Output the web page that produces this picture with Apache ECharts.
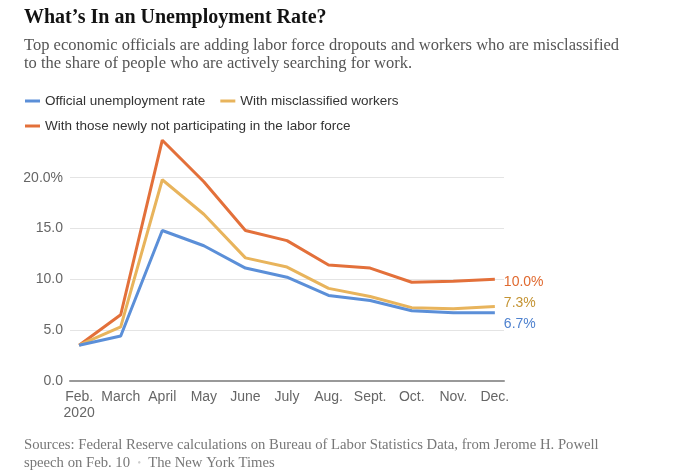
<!DOCTYPE html>
<html>
<head>
<meta charset="utf-8">
<script src="https://cdn.jsdelivr.net/npm/echarts@6/dist/echarts.min.js"></script>
<style>html,body{margin:0;padding:0;background:#fff}#c{width:680px;height:476px}</style>
</head>
<body>
<div id="c"></div>
<script>
var months = ['Feb.\n2020', 'March', 'April', 'May', 'June', 'July', 'Aug.', 'Sept.', 'Oct.', 'Nov.', 'Dec.'];
var official = [3.5, 4.4, 14.8, 13.3, 11.1, 10.2, 8.4, 7.9, 6.9, 6.7, 6.7];
var misclassified = [3.5, 5.3, 19.8, 16.4, 12.1, 11.2, 9.1, 8.3, 7.2, 7.1, 7.3];
var notParticipating = [3.5, 6.5, 23.7, 19.6, 14.8, 13.8, 11.4, 11.1, 9.7, 9.8, 10.0];
var yTicks = [0, 5, 10, 15, 20];
var names = ['Official unemployment rate', 'With misclassified workers', 'With those newly not participating in the labor force'];

function pairs(arr) { return arr.map(function (v, i) { return [i, v]; }); }
var idx = months.map(function (m, i) { return i; });

var sans = "'Liberation Sans', Arial, sans-serif";
var serif = "'Liberation Serif', 'Times New Roman', serif";

var chart = echarts.init(document.getElementById('c'), null, { renderer: 'canvas' });
chart.setOption({
  animation: false,
  title: [
    { left: 24, top: 8, padding: 0, text: 'What\u2019s In an Unemployment Rate?',
      textStyle: { fontFamily: serif, fontWeight: 'bold', fontSize: 20, color: '#121212' } },
    { left: 24, top: 36, padding: 0, text: 'Top economic officials are adding labor force dropouts and workers who are misclassified\nto the share of people who are actively searching for work.',
      textStyle: { fontFamily: serif, fontWeight: 'normal', fontSize: 16.5, lineHeight: 18.5, color: '#555' } },
    { left: 24, top: 436, padding: 0, text: 'Sources: Federal Reserve calculations on Bureau of Labor Statistics Data, from Jerome H. Powell\nspeech on Feb. 10  {d|\u2022}  The New York Times',
      textStyle: { fontFamily: serif, fontWeight: 'normal', fontSize: 14.7, lineHeight: 18, color: '#777',
        rich: { d: { color: '#ccc', fontSize: 10 } } } }
  ],
  legend: [
    { left: 25, top: 94, padding: 0, data: [names[0], names[1]], icon: 'rect', itemWidth: 15, itemHeight: 3, itemGap: 15,
      textStyle: { fontFamily: sans, fontSize: 13.5, color: '#333' } },
    { left: 25, top: 119, padding: 0, data: [names[2]], icon: 'rect', itemWidth: 15, itemHeight: 3,
      textStyle: { fontFamily: sans, fontSize: 13.5, color: '#333' } }
  ],
  grid: { left: 70, right: 176, top: 127, bottom: 95.3, containLabel: false },
  xAxis: {
    type: 'value', min: -0.22, max: 10.22,
    axisLine: { show: true, lineStyle: { color: '#999', width: 2 } },
    axisTick: { show: false },
    splitLine: { show: false },
    axisLabel: {
      customValues: idx,
      formatter: function (v) { return months[Math.round(v)]; },
      fontFamily: sans, fontSize: 14, color: '#666', margin: 8, lineHeight: 16
    }
  },
  yAxis: {
    type: 'value', min: 0, max: 25, interval: 5,
    axisLine: { show: false }, axisTick: { show: false },
    splitLine: { lineStyle: { color: ['#e4e4e4', '#e4e4e4', '#e4e4e4', '#e4e4e4', '#e4e4e4', 'rgba(0,0,0,0)'], width: 1 } },
    axisLabel: {
      customValues: yTicks,
      formatter: function (v) { return v === 20 ? v.toFixed(1) + '%' : v.toFixed(1); },
      fontFamily: sans, fontSize: 14, color: '#666', margin: 7
    }
  },
  series: [
    { name: names[0], type: 'line', data: pairs(official), showSymbol: false, symbol: 'none', z: 3,
      lineStyle: { color: '#5b8fd8', width: 3 }, itemStyle: { color: '#5b8fd8' },
      endLabel: { show: true, formatter: function (p) { return p.value[1].toFixed(1) + '%'; }, fontFamily: sans, fontSize: 14, color: '#4f82cf', distance: 9, offset: [0, 11] } },
    { name: names[1], type: 'line', data: pairs(misclassified), showSymbol: false, symbol: 'none', z: 2,
      lineStyle: { color: '#e8b45c', width: 3 }, itemStyle: { color: '#e8b45c' },
      endLabel: { show: true, formatter: function (p) { return p.value[1].toFixed(1) + '%'; }, fontFamily: sans, fontSize: 14, color: '#c49434', distance: 9, offset: [0, -3] } },
    { name: names[2], type: 'line', data: pairs(notParticipating), showSymbol: false, symbol: 'none', z: 1,
      lineStyle: { color: '#e3703a', width: 3 }, itemStyle: { color: '#e3703a' },
      endLabel: { show: true, formatter: function (p) { return p.value[1].toFixed(1) + '%'; }, fontFamily: sans, fontSize: 14, color: '#e0692f', distance: 9, offset: [0, 3] } }
  ]
});
</script>
</body>
</html>
